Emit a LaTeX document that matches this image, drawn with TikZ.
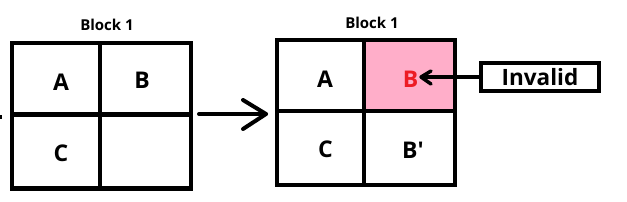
\documentclass[tikz,border=0pt]{standalone}
\usepackage{fontspec}
\setmainfont{Open Sans}
\usetikzlibrary{arrows.meta}
\definecolor{pinkfill}{HTML}{FFAEC9}
\definecolor{paintred}{HTML}{ED1C24}
\begin{document}
\begin{tikzpicture}[x=1pt,y=-1pt,
  grid/.style={line width=4.4pt},
  lbl/.style={font=\fontsize{23}{23}\selectfont\bfseries, inner sep=0pt},
  ttl/.style={font=\fontsize{15}{15}\selectfont\bfseries, inner sep=0pt}
]
\useasboundingbox (0,0) rectangle (627,201);
% left block
\draw[grid] (12,43) rectangle (191,188.5);
\draw[grid] (100,43) -- (100,188.5);
\draw[grid] (12,114.5) -- (191,114.5);
\node[ttl] (t1) at (107,25) {Block 1};
\node[lbl] (a1) at (61,82) {A};
\node[lbl] (b1) at (142,80) {B};
\node[lbl] (c1) at (61,153) {C};
% right block
\fill[pinkfill] (364,40) rectangle (455,111);
\draw[grid] (277,40) rectangle (455,185);
\draw[grid] (364,40) -- (364,185);
\draw[grid] (277,111) -- (455,111);
\node[ttl] (t2) at (372,23) {Block 1};
\node[lbl] (a2) at (325,79) {A};
\node[lbl, text=paintred] (b2) at (410.5,79) {B};
\node[lbl] (c2) at (325.5,149) {C};
\node[lbl] (bp) at (413,150) {B\textquotesingle};
% invalid box
\node[draw, line width=4.6pt, minimum width=118pt, minimum height=28pt, inner sep=0pt,
  font=\fontsize{22.5}{22.5}\selectfont\bfseries] (inv) at (540,77) {Invalid};
% arrows
\coordinate (as) at (199,114);
\coordinate (ae) at (266,114);
\draw[line width=4pt, line cap=round, line join=round] (as) -- (ae);
\draw[line width=4pt, line cap=round, line join=round] (243,100) -- (ae) -- (243,129);
\coordinate (ie) at (421,77);
\draw[line width=3.5pt] (inv.west) -- (ie);
\draw[line width=3.5pt, line cap=round, line join=round] (431,71) -- (ie) -- (431,84);
% left edge tick
\fill (0,115) rectangle (2,119);
\end{tikzpicture}
\end{document}
